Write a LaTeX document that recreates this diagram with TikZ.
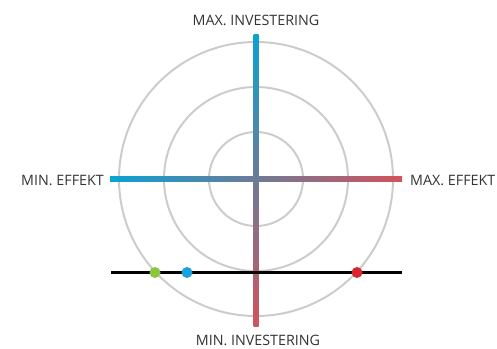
\documentclass[tikz,border=0pt]{standalone}
\usepackage{fontspec}
\setmainfont{Open Sans}
\definecolor{axblue}{HTML}{0AA2D4}
\definecolor{axred}{HTML}{D2535B}
\definecolor{ringgray}{HTML}{CCCCCC}
\definecolor{txtgray}{HTML}{333333}
\definecolor{dotgreen}{HTML}{8CC63F}
\definecolor{dotblue}{HTML}{1BA1DC}
\definecolor{dotred}{HTML}{D7262F}
\begin{document}
\begin{tikzpicture}[x=1pt,y=-1pt,
  ring/.style={draw=ringgray,line width=2pt},
  lbl/.style={text=txtgray,font=\fontsize{14.3}{15}\selectfont,inner sep=0pt},
  dot/.style={circle,inner sep=0pt,minimum size=11pt}]
\useasboundingbox (0,0) rectangle (497,348);
\coordinate (c) at (256,179);
\draw[ring] (c) circle[radius=47];
\draw[ring] (c) circle[radius=92];
\draw[ring] (c) circle[radius=137];
% axes
\shade[left color=axblue,right color=axred] (110,176.5) rectangle (402,181.5);
\shade[top color=axblue,bottom color=axred] (253.5,34) rectangle (258.5,326);
% line and dots
\coordinate (l0) at (111,272.5);
\coordinate (l1) at (402,272.5);
\draw[line width=2.2pt,black] (l0) -- (l1);
\node[dot,fill=dotgreen] (g) at (155,272.5) {};
\node[dot,fill=dotblue] (b) at (187,272.5) {};
\node[dot,fill=dotred] (r) at (357,272.5) {};
% labels
\node[lbl] (t) at (256,20) {MAX. INVESTERING};
\node[lbl] (bt) at (258,340) {MIN. INVESTERING};
\node[lbl,anchor=east] (lt) at (104,180) {MIN. EFFEKT};
\node[lbl,anchor=west] (rt) at (410,180) {MAX. EFFEKT};
\end{tikzpicture}
\end{document}
